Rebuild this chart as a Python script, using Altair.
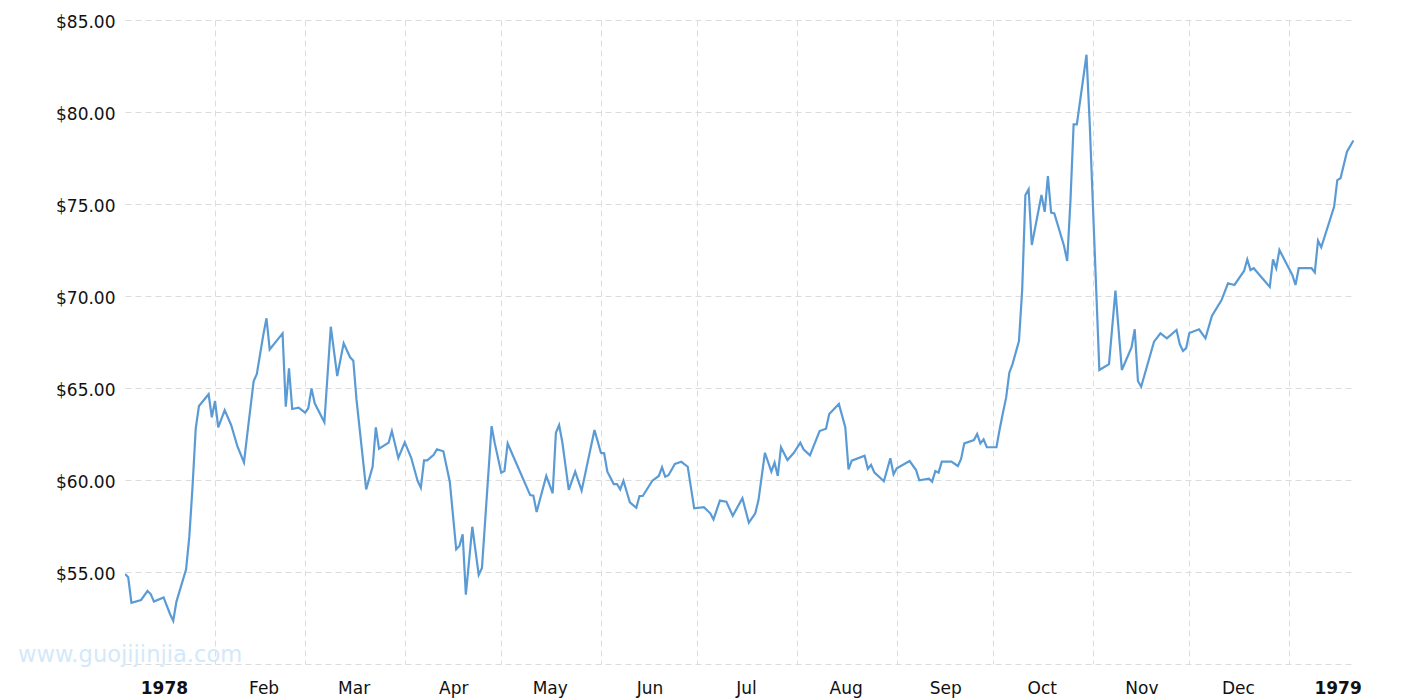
import altair as alt
import pandas as pd

# ---- data ----
dates = [
    "1978-01-04", "1978-01-05", "1978-01-06", "1978-01-09", "1978-01-11", "1978-01-12", "1978-01-13",
    "1978-01-16", "1978-01-18", "1978-01-19", "1978-01-20", "1978-01-23", "1978-01-24", "1978-01-25",
    "1978-01-26", "1978-01-27", "1978-01-30", "1978-01-31", "1978-02-01", "1978-02-02", "1978-02-04",
    "1978-02-06", "1978-02-08", "1978-02-10", "1978-02-11", "1978-02-13", "1978-02-14", "1978-02-16",
    "1978-02-17", "1978-02-18", "1978-02-22", "1978-02-23", "1978-02-24", "1978-02-25", "1978-02-27",
    "1978-03-01", "1978-03-02", "1978-03-03", "1978-03-04", "1978-03-07", "1978-03-09", "1978-03-11",
    "1978-03-13", "1978-03-15", "1978-03-16", "1978-03-17", "1978-03-20", "1978-03-22", "1978-03-23",
    "1978-03-24", "1978-03-27", "1978-03-28", "1978-03-30", "1978-04-01", "1978-04-03", "1978-04-05",
    "1978-04-06", "1978-04-07", "1978-04-08", "1978-04-10", "1978-04-11", "1978-04-13", "1978-04-15",
    "1978-04-17", "1978-04-18", "1978-04-19", "1978-04-20", "1978-04-22", "1978-04-24", "1978-04-25",
    "1978-04-28", "1978-04-29", "1978-05-01", "1978-05-02", "1978-05-03", "1978-05-05", "1978-05-10",
    "1978-05-11", "1978-05-12", "1978-05-13", "1978-05-15", "1978-05-17", "1978-05-18", "1978-05-19",
    "1978-05-20", "1978-05-22", "1978-05-24", "1978-05-26", "1978-05-30", "1978-06-01", "1978-06-02",
    "1978-06-03", "1978-06-05", "1978-06-06", "1978-06-07", "1978-06-08", "1978-06-10", "1978-06-12",
    "1978-06-13", "1978-06-14", "1978-06-17", "1978-06-19", "1978-06-20", "1978-06-21", "1978-06-22",
    "1978-06-24", "1978-06-26", "1978-06-28", "1978-06-30", "1978-07-03", "1978-07-05", "1978-07-06",
    "1978-07-08", "1978-07-10", "1978-07-12", "1978-07-15", "1978-07-17", "1978-07-19", "1978-07-20",
    "1978-07-22", "1978-07-24", "1978-07-25", "1978-07-26", "1978-07-27", "1978-07-29", "1978-07-31",
    "1978-08-02", "1978-08-03", "1978-08-05", "1978-08-08", "1978-08-10", "1978-08-11", "1978-08-14",
    "1978-08-16", "1978-08-17", "1978-08-18", "1978-08-22", "1978-08-23", "1978-08-24", "1978-08-25",
    "1978-08-28", "1978-08-30", "1978-08-31", "1978-09-01", "1978-09-05", "1978-09-07", "1978-09-08",
    "1978-09-11", "1978-09-12", "1978-09-13", "1978-09-14", "1978-09-15", "1978-09-18", "1978-09-20",
    "1978-09-21", "1978-09-22", "1978-09-25", "1978-09-26", "1978-09-27", "1978-09-28", "1978-09-29",
    "1978-10-02", "1978-10-03", "1978-10-04", "1978-10-05", "1978-10-06", "1978-10-07", "1978-10-09",
    "1978-10-10", "1978-10-11", "1978-10-12", "1978-10-13", "1978-10-16", "1978-10-17", "1978-10-18",
    "1978-10-19", "1978-10-20", "1978-10-23", "1978-10-24", "1978-10-25", "1978-10-26", "1978-10-27",
    "1978-10-30", "1978-10-31", "1978-11-03", "1978-11-06", "1978-11-08", "1978-11-10", "1978-11-13",
    "1978-11-14", "1978-11-15", "1978-11-16", "1978-11-20", "1978-11-22", "1978-11-24", "1978-11-27",
    "1978-11-28", "1978-11-29", "1978-11-30", "1978-12-01", "1978-12-04", "1978-12-06", "1978-12-08",
    "1978-12-11", "1978-12-13", "1978-12-15", "1978-12-18", "1978-12-19", "1978-12-20", "1978-12-21",
    "1978-12-26", "1978-12-27", "1978-12-28", "1978-12-29", "1979-01-02", "1979-01-03", "1979-01-04",
    "1979-01-08", "1979-01-09", "1979-01-10", "1979-01-11", "1979-01-15", "1979-01-16", "1979-01-17",
    "1979-01-19", "1979-01-21",
]

prices = [
    54.89, 54.71, 53.33, 53.48, 53.97, 53.80, 53.39,
    53.62, 52.72, 52.35, 53.39, 55.15, 56.92, 59.64,
    62.81, 64.02, 64.66, 63.41, 64.29, 62.86, 63.80,
    62.99, 61.81, 60.96, 62.45, 65.36, 65.76, 67.88,
    68.79, 67.10, 67.97, 63.98, 66.07, 63.86, 63.93,
    63.66, 63.90, 64.98, 64.17, 63.14, 68.33, 65.65,
    67.43, 66.67, 66.48, 64.35, 59.49, 60.72, 62.86,
    61.70, 62.03, 62.66, 61.20, 62.05, 61.21, 59.95,
    59.58, 61.07, 61.07, 61.37, 61.67, 61.56, 59.91,
    56.23, 56.41, 57.05, 53.77, 57.46, 54.84, 55.22,
    62.93, 61.99, 60.40, 60.49, 61.99, 61.18, 59.18,
    59.15, 58.26, 58.91, 60.22, 59.28, 62.57, 62.99,
    62.05, 59.46, 60.45, 59.42, 62.72, 61.48, 61.45,
    60.45, 59.78, 59.78, 59.49, 59.96, 58.79, 58.49,
    59.13, 59.13, 59.96, 60.22, 60.69, 60.18, 60.26,
    60.87, 60.99, 60.72, 58.46, 58.52, 58.19, 57.86,
    58.88, 58.82, 58.06, 59.01, 57.68, 58.19, 58.91,
    61.48, 60.45, 60.94, 60.22, 61.78, 61.09, 61.48,
    62.03, 61.67, 61.34, 62.66, 62.79, 63.59, 64.13,
    62.86, 60.58, 61.05, 61.32, 60.61, 60.82, 60.42,
    59.93, 61.18, 60.31, 60.64, 61.03, 60.54, 59.98,
    60.07, 59.91, 60.49, 60.40, 61.00, 61.00, 60.76,
    61.14, 61.99, 62.17, 62.50, 61.99, 62.21, 61.78,
    61.78, 62.76, 63.64, 64.46, 65.83, 66.30, 67.55,
    70.33, 75.49, 75.80, 72.77, 75.49, 74.57, 76.52,
    74.53, 74.49, 72.73, 71.90, 75.13, 79.33, 79.33,
    83.11, 79.39, 65.98, 66.30, 70.29, 65.98, 67.21,
    68.19, 65.38, 65.07, 67.52, 67.97, 67.70, 68.15,
    67.39, 67.01, 67.17, 67.99, 68.19, 67.70, 68.91,
    69.78, 70.69, 70.60, 71.36, 71.99, 71.41, 71.51,
    70.49, 71.99, 71.51, 72.50, 71.14, 70.60, 71.51,
    71.51, 71.28, 73.01, 72.65, 74.85, 76.30, 76.40,
    77.84, 78.45,
]

# month labels (centred mid-month) and month-start grid positions
label_dates = [
    "1978-01-16T06:00:00", "1978-02-16T06:00:00", "1978-03-16T06:00:00", "1978-04-16T06:00:00",
    "1978-05-16T06:00:00", "1978-06-16T06:00:00", "1978-07-16T06:00:00", "1978-08-16T06:00:00",
    "1978-09-16T06:00:00", "1978-10-16T06:00:00", "1978-11-16T06:00:00", "1978-12-16T06:00:00",
    "1979-01-16T06:00:00",
]
label_texts = ["1978", "Feb", "Mar", "Apr", "May", "Jun", "Jul", "Aug", "Sep", "Oct", "Nov", "Dec", "1979"]
label_is_year = [True] + [False] * 11 + [True]

grid_years = [1978] * 11 + [1979]
grid_months = [2, 3, 4, 5, 6, 7, 8, 9, 10, 11, 12, 1]
y_ticks = [50, 55, 60, 65, 70, 75, 80, 85]
watermark = "www.guojijinjia.com"

# ---- build chart ----
df = pd.DataFrame({"date": [d + "T00:00:00" for d in dates], "price": prices})
lab_df = pd.DataFrame({"date": label_dates, "label": label_texts, "year": label_is_year})
wm_df = pd.DataFrame({"t": [watermark]})

grid_vals = [alt.DateTime(year=y, month=m, date=1) for y, m in zip(grid_years, grid_months)]
x_domain = [alt.DateTime(year=1978, month=1, date=4),
            alt.DateTime(year=1979, month=1, date=21, hours=12)]

W, H = 1230, 644
FONT = "DejaVu Sans"

x_axis = alt.Axis(values=grid_vals, grid=True, gridDash=[6, 4], gridColor="#dcdcdc",
                  gridWidth=1, labels=False, ticks=False, domain=False, title=None)
x_scale = alt.Scale(domain=x_domain)

line = alt.Chart(df).mark_line(color="#5b9bd5", strokeWidth=2.2, clip=True).encode(
    x=alt.X("date:T", scale=x_scale, axis=x_axis),
    y=alt.Y("price:Q", scale=alt.Scale(domain=[50, 85], nice=False, zero=False),
            axis=alt.Axis(values=y_ticks, grid=True, gridDash=[6, 4], gridColor="#dcdcdc",
                          gridWidth=1, ticks=False, tickSize=0, domain=False, title=None,
                          labelPadding=10, labelFont=FONT, labelFontSize=17, labelColor="#111111",
                          labelOffset=2,
                          labelExpr="datum.value == 50 ? '' : '$' + format(datum.value, '.2f')")),
)

month_labels = alt.Chart(lab_df).transform_filter("!datum.year").mark_text(
    baseline="alphabetic", align="center", fontSize=17, font=FONT, color="#111111").encode(
    x=alt.X("date:T", scale=x_scale, axis=x_axis), y=alt.value(674), text="label:N")

year_labels = alt.Chart(lab_df).transform_filter("datum.year").mark_text(
    baseline="alphabetic", align="center", fontSize=17, font=FONT, fontWeight="bold",
    color="#111111").encode(
    x=alt.X("date:T", scale=x_scale, axis=x_axis), y=alt.value(674), text="label:N")

wm = alt.Chart(wm_df).mark_text(align="left", baseline="alphabetic", fontSize=22.6, font=FONT,
                                 color="#d3e9fa").encode(
    x=alt.value(-107), y=alt.value(642), text="t:N"
)

chart = alt.layer(line, month_labels, year_labels, wm).properties(
    width=W, height=H,
    autosize=alt.AutoSizeParams(type="none"),
    padding={"left": 117, "top": 12, "right": 40, "bottom": 34},
).configure_view(stroke=None)

chart.save("out.html", embed_options={"renderer": "svg", "actions": False})
